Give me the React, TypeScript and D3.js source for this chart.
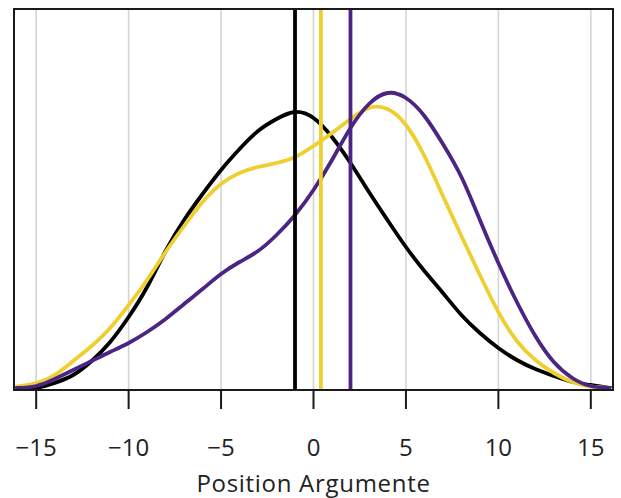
import React from "react";
import * as d3 from "d3";

const xs = [-16.2, -16, -15, -14, -13, -12, -11, -10, -9, -8, -7, -6, -5, -4, -3, -2, -1, 0, 1, 2, 3, 4, 5, 6, 7, 8, 9, 10, 11, 12, 13, 14, 15, 16, 16.2];

const blackDens = [1, 1, 2, 7, 15, 29, 48, 73, 103, 139, 170, 196, 220, 241, 259, 271, 278, 272, 253, 227, 198, 170, 143, 119, 97, 75, 57, 42, 30, 21, 14, 8, 5, 2, 1.7];
const yellowDens = [3, 3.5, 7, 15, 29, 44, 62, 85, 110, 138, 164, 188, 206, 217, 223, 227, 233, 244, 257, 271, 282, 281, 265, 234, 194, 154, 115, 78, 49, 30, 17, 8, 3.5, 2, 1.7];
const purpleDens = [2, 2, 4, 11, 20, 29, 38, 47, 58, 71, 86, 101, 116, 128, 139, 155, 175, 200, 230, 262, 286, 297, 292, 274, 246, 213, 170, 127, 88, 54, 28, 12, 4, 2, 1.7];

const means = [-1.0, 0.4, 2.0];
const seriesColors = ["#000000", "#EFCF2F", "#4B2583"];
const xTicks = [-15, -10, -5, 0, 5, 10, 15];
const xLabel = "Position Argumente";

export default function App() {
  const left = 14, right = 613, top = 9, bottom = 390;
  const x = d3.scaleLinear().domain([-16.2, 16.2]).range([left, right]);
  const y = d3.scaleLinear().domain([0, 381]).range([bottom, top]);
  const line = d3
    .line<number>()
    .x((_, i) => x(xs[i]))
    .y((d) => y(d))
    .curve(d3.curveNatural);
  const series = [blackDens, yellowDens, purpleDens];
  const fmt = (v: number) => (v < 0 ? "\u2212" + Math.abs(v) : String(v));
  return (
    <svg width={621} height={498} style={{ position: "absolute", left: 0, top: 0 }}>
      <defs>
        <clipPath id="plotClip">
          <rect x={left} y={top} width={right - left} height={bottom - top} />
        </clipPath>
      </defs>
      <rect x={0} y={0} width={621} height={498} fill="#fff" />
      {xTicks.map((t) => (
        <line key={"g" + t} x1={x(t)} x2={x(t)} y1={top} y2={bottom} stroke="#d4d4d4" strokeWidth={1.6} />
      ))}
      <g clipPath="url(#plotClip)">
        {series.map((s, i) => (
          <path key={"s" + i} d={line(s) || ""} fill="none" stroke={seriesColors[i]} strokeWidth={3.8} strokeLinejoin="round" />
        ))}
      </g>
      {means.map((m, i) => (
        <line key={"m" + i} x1={x(m)} x2={x(m)} y1={top} y2={bottom} stroke={seriesColors[i]} strokeWidth={3.8} />
      ))}
      <rect x={left} y={top} width={right - left} height={bottom - top} fill="none" stroke="#1a1a1a" strokeWidth={2} />
      {xTicks.map((t) => (
        <g key={"t" + t}>
          <line x1={x(t)} x2={x(t)} y1={bottom} y2={bottom + 19} stroke="#1a1a1a" strokeWidth={2} />
          <text x={x(t)} y={456} textAnchor="middle" fontFamily="Open Sans" fontSize={24} fill="#222">
            {fmt(t)}
          </text>
        </g>
      ))}
      <text x={313.5} y={492} textAnchor="middle" fontFamily="Open Sans" fontSize={24} letterSpacing={0.7} fill="#222">
        {xLabel}
      </text>
    </svg>
  );
}
